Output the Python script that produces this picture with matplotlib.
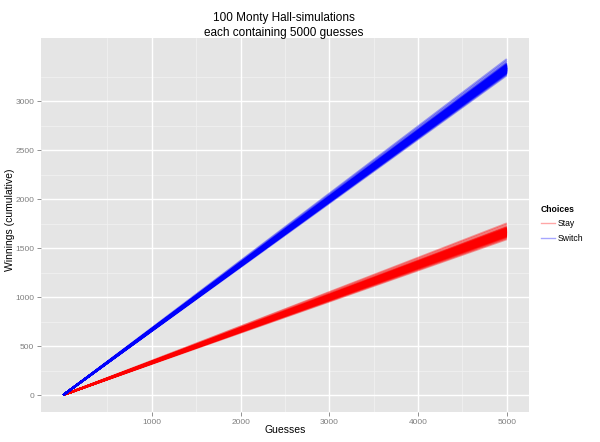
import matplotlib
matplotlib.use("Agg")
import matplotlib.pyplot as plt
from matplotlib.lines import Line2D

plt.rcParams['font.family'] = ['Liberation Sans', 'DejaVu Sans']

# Guess index where every simulation starts and ends.
guess_start = 1
guess_end = 5000

# Cumulative winnings after 5000 guesses, one value per simulation.
switch_final = [
    3341, 3318, 3362, 3297, 3335, 3374, 3309, 3328, 3351, 3289,
    3322, 3345, 3301, 3367, 3330, 3312, 3356, 3284, 3339, 3326,
    3393, 3305, 3348, 3319, 3333, 3361, 3294, 3337, 3315, 3352,
    3327, 3381, 3308, 3343, 3272, 3336, 3321, 3358, 3299, 3331,
    3347, 3313, 3369, 3324, 3340, 3286, 3355, 3317, 3334, 3303,
    3411, 3325, 3346, 3311, 3338, 3366, 3296, 3329, 3350, 3320,
    3307, 3342, 3278, 3359, 3332, 3316, 3371, 3323, 3344, 3300,
    3337, 3262, 3353, 3314, 3327, 3385, 3310, 3339, 3292, 3348,
    3321, 3364, 3306, 3335, 3330, 3318, 3357, 3298, 3343, 3325,
    3376, 3312, 3349, 3288, 3334, 3320, 3362, 3304, 3341, 3428,
]
stay_final = [
    1666, 1641, 1689, 1652, 1674, 1703, 1630, 1660, 1685, 1619,
    1657, 1679, 1637, 1698, 1663, 1647, 1688, 1612, 1671, 1655,
    1724, 1634, 1682, 1650, 1668, 1693, 1626, 1672, 1645, 1686,
    1661, 1712, 1639, 1676, 1598, 1669, 1653, 1691, 1628, 1664,
    1680, 1644, 1700, 1658, 1673, 1617, 1687, 1649, 1667, 1635,
    1741, 1656, 1678, 1642, 1670, 1696, 1622, 1662, 1684, 1651,
    1638, 1675, 1605, 1692, 1665, 1646, 1706, 1654, 1677, 1631,
    1669, 1589, 1683, 1643, 1659, 1715, 1640, 1671, 1624, 1681,
    1652, 1695, 1636, 1668, 1663, 1648, 1690, 1627, 1674, 1657,
    1709, 1644, 1679, 1614, 1666, 1653, 1697, 1633, 1672, 1752,
]

x_ticks = [1000, 2000, 3000, 4000, 5000]
y_ticks = [0, 500, 1000, 1500, 2000, 2500, 3000]
choices = ["Stay", "Switch"]
colours = {"Stay": "#FF0000", "Switch": "#0000FF"}

fig = plt.figure(figsize=(6.0, 4.42), dpi=100)
ax = fig.add_axes([41 / 600, 1 - 412 / 442, 488 / 600, 374 / 442])

ax.set_facecolor("#E5E5E5")
for s in ax.spines.values():
    s.set_visible(False)

# minor then major grid, ggplot style
x_minor = [500, 1500, 2500, 3500, 4500]
y_minor = [250, 750, 1250, 1750, 2250, 2750, 3250]
for v in x_minor:
    ax.axvline(v, color="#F2F2F2", lw=0.5, zorder=0)
for v in y_minor:
    ax.axhline(v, color="#F2F2F2", lw=0.5, zorder=0)
for v in x_ticks:
    ax.axvline(v, color="white", lw=1.0, zorder=0)
for v in y_ticks:
    ax.axhline(v, color="white", lw=1.0, zorder=0)

for name, finals in (("Stay", stay_final), ("Switch", switch_final)):
    for f in finals:
        ax.plot([guess_start, guess_end], [0, f], color=colours[name],
                lw=1.4, alpha=0.35, solid_capstyle="butt", zorder=2)

ax.set_xlim(guess_start - 250, guess_end + 250)
ax.set_ylim(-173, 3643)
ax.set_xticks(x_ticks)
ax.set_yticks(y_ticks)
ax.tick_params(colors="#7F7F7F", labelsize=6.0, length=3, width=0.6,
               labelcolor="#7F7F7F", pad=2)

# titles placed in figure pixels
fig.text(285 / 600, 1 - 430 / 442, "Guesses", fontsize=7.5,
         ha="center", va="center")
fig.text(10 / 600, 1 - 220 / 442, "Winnings (cumulative)", fontsize=7.5,
         ha="center", va="center", rotation=90)
fig.text(284 / 600, 1 - 18 / 442, "100 Monty Hall-simulations",
         fontsize=8.5, ha="center", va="center")
fig.text(284 / 600, 1 - 33 / 442, "each containing 5000 guesses",
         fontsize=8.5, ha="center", va="center")

handles = [Line2D([], [], color=colours[c], lw=1.0, alpha=0.35) for c in choices]
leg = fig.legend(handles, choices, loc="center left",
                 bbox_to_anchor=(533 / 600, 1 - 224 / 442),
                 title="Choices", frameon=False, fontsize=6.2,
                 title_fontsize=6.2, handlelength=1.6, handletextpad=0.4,
                 labelspacing=0.6)
leg.get_title().set_fontweight("bold")
leg._legend_box.align = "left"

fig.savefig("out.png", dpi=100)
